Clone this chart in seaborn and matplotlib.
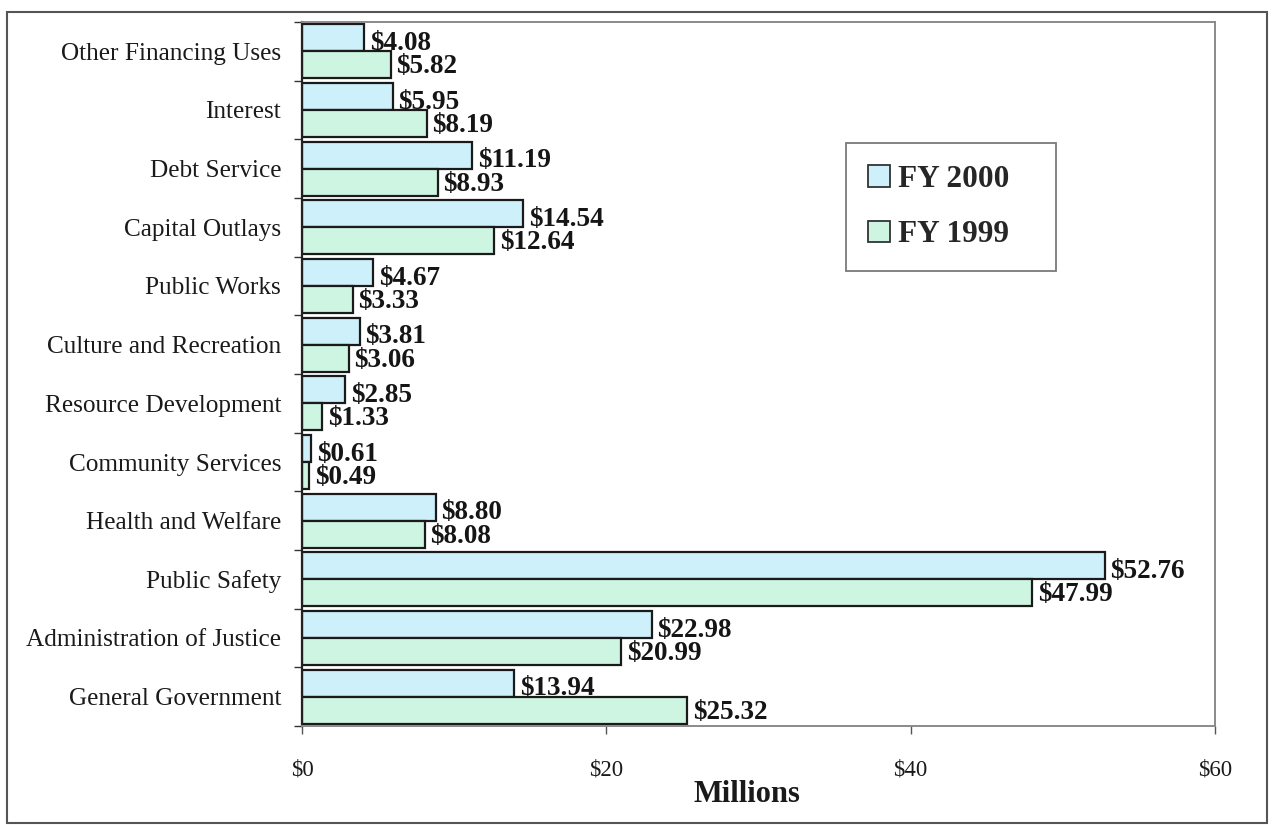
import numpy as np
import pandas as pd
import matplotlib
matplotlib.use("Agg")
import matplotlib.pyplot as plt
import seaborn as sns
from matplotlib.patches import Rectangle, Patch

# Expenditures by function, in millions of dollars
categories = [
    "Other Financing Uses",
    "Interest",
    "Debt Service",
    "Capital Outlays",
    "Public Works",
    "Culture and Recreation",
    "Resource Development",
    "Community Services",
    "Health and Welfare",
    "Public Safety",
    "Administration of Justice",
    "General Government",
]
fy2000 = [4.08, 5.95, 11.19, 14.54, 4.67, 3.81, 2.85, 0.61, 8.80, 52.76, 22.98, 13.94]
fy1999 = [5.82, 8.19, 8.93, 12.64, 3.33, 3.06, 1.33, 0.49, 8.08, 47.99, 20.99, 25.32]
series_names = ["FY 2000", "FY 1999"]
x_ticks = [0, 20, 40, 60]
x_tick_labels = [r"\$0", r"\$20", r"\$40", r"\$60"]

sns.set_theme(style="white")
plt.rcParams["font.family"] = ["Liberation Serif", "DejaVu Serif"]

df = pd.DataFrame({
    "Category": categories * 2,
    "Amount": fy2000 + fy1999,
    "Year": [series_names[0]] * len(categories) + [series_names[1]] * len(categories),
})

colors = {"FY 2000": "#cdf0fb", "FY 1999": "#cdf5e1"}

fig = plt.figure(figsize=(12.73, 8.25), dpi=100)
ax = fig.add_axes([302 / 1273, 1 - 726 / 825, 913 / 1273, 704 / 825])

sns.barplot(
    data=df, x="Amount", y="Category", hue="Year",
    order=categories, hue_order=series_names, palette=colors,
    orient="h", width=0.92, saturation=1,
    edgecolor="#1a1a1a", linewidth=1.6, ax=ax, legend=False,
)

# value labels at the end of each bar
offsets = {0: -4.0, 1: -1.5}
for i, container in enumerate(ax.containers):
    for bar in container:
        w = bar.get_width()
        yc = bar.get_y() + bar.get_height() / 2
        ax.annotate(
            r"\$" + f"{w:.2f}", xy=(w, yc), xytext=(4, offsets[i]),
            textcoords="offset points", ha="left", va="center",
            fontsize=19.5, fontweight="bold", color="#151515",
        )

ax.set_xlim(0, 60)
ax.set_ylim(len(categories) - 0.5, -0.5)
ax.set_xticks(x_ticks)
ax.set_xticklabels(x_tick_labels, fontsize=16.5, color="#1a1a1a")
ax.set_yticks(range(len(categories)))
ax.set_yticklabels(categories, fontsize=18.2, color="#1a1a1a")
ax.set_yticks(np.arange(-0.5, len(categories), 1), minor=True)
ax.tick_params(axis="y", which="major", length=0, pad=15)
ax.tick_params(axis="y", which="minor", length=6, width=1.0, color="#333333", direction="out", left=True)
ax.tick_params(axis="x", which="major", length=6, width=1.0, color="#555555", direction="out", bottom=True, pad=18)
ax.set_ylabel("")
ax.set_xlabel("Millions", fontsize=22, fontweight="bold", color="#1a1a1a", labelpad=2)
ax.xaxis.set_label_coords((747 - 302) / 913, -0.077)

for side in ["top", "right", "bottom"]:
    ax.spines[side].set_color("#8a8a8a")
    ax.spines[side].set_linewidth(1.4)
ax.spines["left"].set_color("#222222")
ax.spines["left"].set_linewidth(1.6)

handles = [Patch(facecolor=colors[s], edgecolor="#333333", linewidth=1.3) for s in series_names]
leg = ax.legend(
    handles, series_names, loc="upper left",
    bbox_to_anchor=((846 - 302) / 913, 0.4, 210 / 913, (726 - 143) / 704 - 0.4),
    mode="expand",
    frameon=True, fancybox=False, edgecolor="#7a7a7a", framealpha=1,
    prop={"size": 22.5, "weight": "bold", "family": "Liberation Serif"},
    handlelength=0.7, handleheight=0.7, handletextpad=0.25,
    labelspacing=0.85, borderpad=0.7, borderaxespad=0,
)
leg.get_frame().set_linewidth(1.3)

# outer border around the whole chart
fig.patches.append(Rectangle(
    (7 / 1273, 2 / 825), 1260 / 1273, 811 / 825, transform=fig.transFigure,
    fill=False, edgecolor="#555555", linewidth=1.5,
))

fig.savefig("out.png", dpi=100)
